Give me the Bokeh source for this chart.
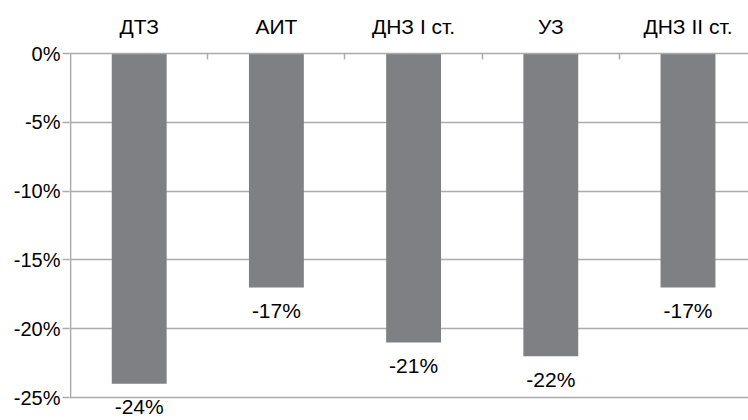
from bokeh.plotting import figure
from bokeh.models import (Range1d, FixedTicker, LinearAxis, ColumnDataSource, LabelSet)
from bokeh.core.properties import value
from bokeh.embed import file_html
from bokeh.resources import INLINE

categories = ["ДТЗ", "АИТ", "ДНЗ I ст.", "УЗ", "ДНЗ II ст."]
values = [-24, -17, -21, -22, -17]
value_labels = ["-24%", "-17%", "-21%", "-22%", "-17%"]
y_ticks = [0, -5, -10, -15, -20, -25]
y_tick_labels = ["0%", "-5%", "-10%", "-15%", "-20%", "-25%"]

FONT = "Liberation Sans"
GRID = "#ababab"
BAR = "#7f8083"

xs = [i + 0.5 for i in range(len(categories))]
src = ColumnDataSource(dict(x=xs, top=[0] * len(values), bottom=values, lab=value_labels))

p = figure(width=748, height=420, output_backend="svg", toolbar_location=None,
           x_range=Range1d(-0.008, 4.941), y_range=Range1d(-26.67, 0),
           x_axis_location=None, y_axis_location=None,
           min_border_left=69, min_border_right=0, min_border_top=53, min_border_bottom=0)
p.outline_line_color = None
p.background_fill_color = "white"

p.xgrid.visible = False
p.ygrid.ticker = FixedTicker(ticks=y_ticks)
p.ygrid.grid_line_color = GRID
p.ygrid.grid_line_width = 1.5

p.vbar(x="x", width=0.4, top="top", bottom="bottom", source=src,
       fill_color=BAR, line_color=None)

# left axis line, ending at the lowest tick
p.segment(x0=[0], y0=[y_ticks[0]], x1=[0], y1=[y_ticks[-1]], line_color=GRID, line_width=1.5)

# left axis
yax = LinearAxis(ticker=FixedTicker(ticks=y_ticks))
yax.major_label_overrides = {t: l for t, l in zip(y_ticks, y_tick_labels)}
yax.axis_line_color = None
yax.major_tick_line_color = GRID
yax.major_tick_line_width = 1.5
yax.major_tick_in = 0
yax.major_tick_out = 7
yax.minor_tick_line_color = None
yax.major_label_standoff = 2
yax.major_label_text_font = FONT
yax.major_label_text_font_size = "20px"
yax.major_label_text_color = "#000000"
p.add_layout(yax, "left")

# top axis with category names
xax = LinearAxis(ticker=FixedTicker(ticks=xs, minor_ticks=[1, 2, 3, 4]))
xax.major_label_overrides = {x: c for x, c in zip(xs, categories)}
xax.axis_line_color = GRID
xax.axis_line_width = 1.5
xax.major_tick_line_color = None
xax.minor_tick_line_color = GRID
xax.minor_tick_line_width = 1.5
xax.minor_tick_in = 6
xax.minor_tick_out = 0
xax.major_label_standoff = 10
xax.major_label_text_font = FONT
xax.major_label_text_font_size = "21px"
xax.major_label_text_color = "#000000"
p.add_layout(xax, "above")

labels = LabelSet(x="x", y="bottom", text="lab", source=src, y_offset=-23,
                  text_align="center", text_baseline="middle",
                  text_font=value(FONT), text_font_size=value("21px"),
                  text_color="#000000")
p.add_layout(labels)

open("out.html", "w").write(file_html(p, INLINE))
